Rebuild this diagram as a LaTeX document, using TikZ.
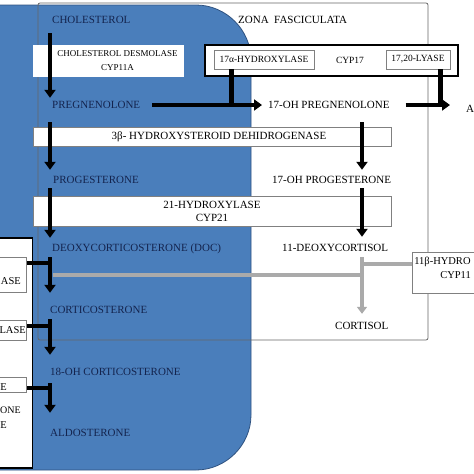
\documentclass[tikz,border=0pt]{standalone}
\usepackage{fontspec}
\setmainfont{Liberation Serif}
\usetikzlibrary{arrows.meta,calc}
\definecolor{zonablue}{RGB}{74,126,187}
\definecolor{zonaedge}{RGB}{47,82,128}
\definecolor{navytext}{RGB}{20,36,78}
\definecolor{pathgray}{RGB}{170,170,170}

\begin{document}
\begin{tikzpicture}[x=1pt,y=-1pt,
  steroid/.style={anchor=west,inner sep=2pt,text height=8pt,text depth=2pt,font=\fontsize{11}{13}\selectfont},
  insteroid/.style={steroid,text=navytext},
  enzyme/.style={draw=gray,fill=white,line width=0.6pt,inner sep=1pt,align=center,font=\fontsize{11}{13}\selectfont},
  smallenzyme/.style={enzyme,font=\fontsize{9.5}{13.5}\selectfont},
  cut/.style={anchor=east,inner sep=0pt,font=\fontsize{10.5}{13}\selectfont},
  flow/.style={line width=4.5pt,-{Triangle[width=11pt,length=8pt]}},
  block/.style={line width=4.5pt},
  grayflow/.style={draw=pathgray,line width=4pt,-{Triangle[width=10pt,length=7pt]}},
  grayline/.style={draw=pathgray,line width=4pt}]
\useasboundingbox (0,0) rectangle (474,474);
\clip (0,0) rectangle (474,474);
\coordinate (lx) at (50,0);
\coordinate (rx) at (362,0);
% zona glomerulosa and zona fasciculata
\fill[zonablue,draw=zonaedge,line width=0.8pt] (-10,5) -- (196,5)
  .. controls (226,5) and (251,30) .. (251,60) -- (251,415)
  .. controls (251,445) and (226,470) .. (196,470) -- (-10,470) -- cycle;
\draw[gray!80!black,line width=0.8pt,rounded corners=2pt] (38,3) rectangle (428,340);

\node[insteroid] (chol) at (50,20) {CHOLESTEROL};
\node[insteroid] (preg) at (50,105) {PREGNENOLONE};
\node[insteroid] (prog) at (51,180) {PROGESTERONE};
\node[insteroid] (doc) at (50,248) {DEOXYCORTICOSTERONE (DOC)};
\node[insteroid] (cort) at (48,310) {CORTICOSTERONE};
\node[insteroid] (ohcort) at (48,372) {18-OH CORTICOSTERONE};
\node[insteroid] (aldo) at (48,433) {ALDOSTERONE};
\node[steroid] (zona) at (236,20) {ZONA\enspace FASCICULATA};
\node[steroid] (ohpreg) at (266,105) {17-OH PREGNENOLONE};
\node[steroid] (ohprog) at (270,180) {17-OH PROGESTERONE};
\node[steroid] (deoxy) at (280,248) {11-DEOXYCORTISOL};
\node[steroid] (cortisol) at (333,326) {CORTISOL};
\node[steroid] (andro) at (464,109) {A};

\node[smallenzyme,draw=none,minimum width=151pt,minimum height=32pt,font=\fontsize{9}{14}\selectfont] (desm) at (108.5,61) {\hspace*{18pt}CHOLESTEROL DESMOLASE\\\hspace*{18pt}CYP11A};
\node[draw,line width=2pt,fill=white,minimum width=253pt,minimum height=31pt] (cyp17) at (331.5,60) {};
\node[smallenzyme,minimum width=100pt,minimum height=19pt] (hyd17) at (264,59.5) {17α-HYDROXYLASE};
\node[smallenzyme,draw=none,fill=none] (cyp17name) at (350,60) {CYP17};
\node[smallenzyme,minimum width=64pt,minimum height=19pt] (lyase) at (418,59.5) {17,20-LYASE};
\node[enzyme,minimum width=358pt,minimum height=19pt] (hsd) at (212,136.5) {\hspace*{14pt}3β- HYDROXYSTEROID DEHIDROGENASE};
\node[enzyme,minimum width=358pt,minimum height=30pt] (cyp21) at (212,211) {21-HYDROXYLASE\\CYP21};
\node[enzyme,anchor=north west,minimum width=72pt,minimum height=41pt] (cyp11b) at (412,252) {};
\node[enzyme,draw=none,fill=none,align=left,anchor=north west,font=\fontsize{10.5}{14}\selectfont] (cyp11bname) at (413,256) {11β-HYDRO\\\hspace*{26pt}CYP11};

% zona glomerulosa enzymes
\node[draw,line width=1.5pt,fill=white,anchor=north east,minimum width=50pt,minimum height=230pt] (glom) at (33,237) {};
\node[enzyme,anchor=north east,minimum width=40pt,minimum height=35pt] (ga) at (27,257) {};
\node[enzyme,anchor=north east,minimum width=40pt,minimum height=20pt] (gb) at (27,320) {};
\node[enzyme,anchor=north east,minimum width=40pt,minimum height=15pt] (gc) at (27,377) {};
\node[cut] (gatext) at (21,281) {ASE};
\node[cut] (gbtext) at (26,330) {LASE};
\node[cut] (gctext) at (7,387) {E};
\node[cut,font=\fontsize{10}{13}\selectfont] (gdtext) at (21,410) {ONE};
\node[cut] (getext) at (7,425) {E};

% main pathway
\draw[flow,shorten <=6pt] (chol.south -| lx) -- (preg.north -| lx);
\draw[flow,shorten <=10pt,shorten >=3pt] (preg.south -| lx) -- (prog.north -| lx);
\draw[flow,shorten <=1pt,shorten >=3pt] (prog.south -| lx) -- (doc.north -| lx);
\draw[flow,shorten <=10pt,shorten >=4pt] (preg.east) -- (ohpreg.west);
\draw[flow,shorten <=14pt,shorten >=14pt] (ohpreg.east) -- (ohpreg.east -| andro.west);
\draw[flow,shorten <=10pt,shorten >=3pt] (ohpreg.south -| rx) -- (ohprog.north -| rx);
\draw[flow,shorten <=1pt,shorten >=4pt] (ohprog.south -| rx) -- (deoxy.north -| rx);
\draw[flow,shorten <=2pt,shorten >=10pt] (doc.south -| lx) -- (cort.north -| lx);
\draw[flow,shorten <=2pt,shorten >=10pt] (cort.south -| lx) -- (ohcort.north -| lx);
\draw[flow,shorten <=4pt,shorten >=13pt] (ohcort.south -| lx) -- (aldo.north -| lx);

% enzyme bars
\coordinate (t17) at ($(hyd17.south west)+(18,0)$);
\coordinate (t1720) at ($(lyase.south east)+(-10,0)$);
\draw[block] (t17) -- (t17 |- ohpreg);
\draw[block] (t1720) -- (t1720 |- ohpreg);
\draw[block] ($(ga.north east)+(0,6)$) -- ++(25,0);
\draw[block] ($(gb.north east)+(0,6)$) -- ++(25,0);
\draw[block] ($(gc.north east)+(0,11)$) -- ++(25,0);

% 11b-hydroxylase
\coordinate (b11in) at ($(cyp11b.north west)+(0,12)$);
\coordinate (gx) at (362,275);
\draw[grayflow,shorten <=2pt,shorten >=5pt] (deoxy.south -| rx) -- (cortisol.north -| rx);
\draw[grayline] (b11in) -- (b11in -| rx);
\draw[grayline,shorten >=2.5pt] (gx) -- (gx -| lx);
\end{tikzpicture}
\end{document}
